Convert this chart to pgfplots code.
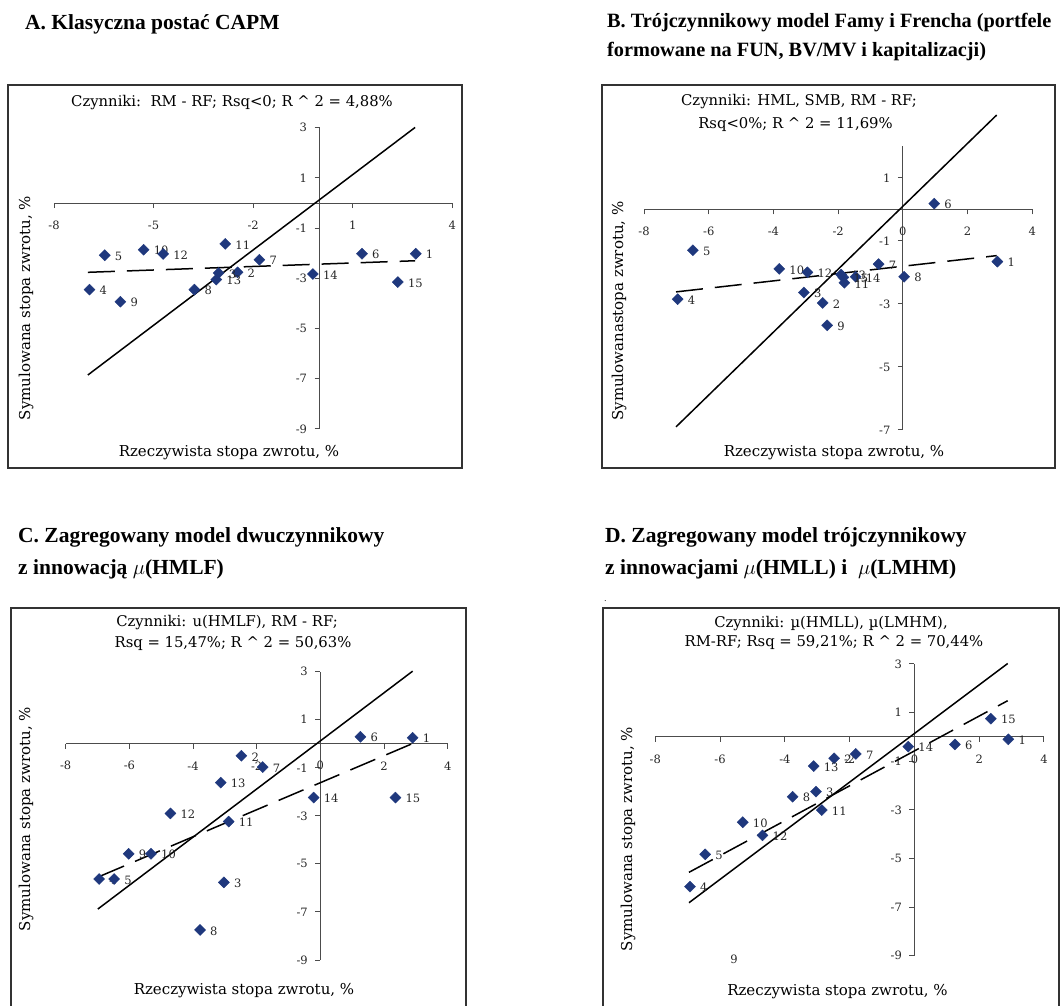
\documentclass[border=0pt]{standalone}
\usepackage{fontspec}
\setmainfont{DejaVu Serif}
\newfontfamily\titlefont{Liberation Serif}
\usepackage{pgfplots}
\pgfplotsset{compat=1.18}
\definecolor{navy}{RGB}{31,56,125}
\newcommand{\ttl}{\titlefont\bfseries\fontsize{21.5}{25}\selectfont}
\newcommand{\ttlb}{\titlefont\bfseries\fontsize{20.3}{24}\selectfont}
\newcommand{\ctl}{\fontsize{14.8}{17}\selectfont}
\newcommand{\alb}{\fontsize{15}{17}\selectfont}
\pgfplotsset{
  panel/.style={
    scale only axis, anchor=south west,
    axis lines=middle,
    axis line style={-, black!70, line width=1pt},
    clip=false,
    hide obscured x ticks=false, hide obscured y ticks=false,
    major tick style={black!70, line width=1pt},
    major tick length=5pt, tick align=outside,
    xmin=-8, xmax=4,
    ytick={-9,-7,-5,-3,-1,1,3},
    yticklabels={-9,-7,-5,-3,-1,1,3},
    xtick={-8,-6,-4,-2,0,2,4},
    xticklabels={-8,-6,-4,-2,0,2,4},
    xticklabel style={font=\fontsize{11.5}{13}\selectfont, anchor=center, yshift=-17pt, text=black!85},
    yticklabel style={font=\fontsize{11.5}{13}\selectfont, anchor=east, xshift=-4pt, text=black!85},
  },
  lbl/.style={every node near coord/.append style={anchor=west, xshift=9pt, yshift=-1pt, inner sep=1pt,
      font=\fontsize{11.5}{13}\selectfont, text=black!85}},
  pts/.style={only marks, mark=square*, mark size=3.9pt,
    mark options={rotate=45, fill=navy, draw=navy},
    nodes near coords, point meta=explicit symbolic, lbl},
  diag/.style={black, line width=1.5pt, no marks},
  trend/.style={black, line width=1.5pt, no marks, dash pattern=on 27pt off 12pt},
}
\begin{document}
\begin{tikzpicture}[x=1pt,y=1pt]
\path[use as bounding box] (0,0) rectangle (1061,1005);
% frames
\draw[black!80, line width=1.2pt] (8,537) rectangle (462,920);
\draw[black!80, line width=1.2pt] (602,537) rectangle (1055,920);
\draw[black!80, line width=1.2pt] (11,-5) rectangle (466,397);
\draw[black!80, line width=1.2pt] (603,-5) rectangle (1059,397);
% titles
\node[anchor=base west, inner sep=0] at (25,975) {\ttl A. Klasyczna postać CAPM};
\node[anchor=base west, inner sep=0] at (607,977.7) {\ttlb B. Trójczynnikowy model Famy i Frencha (portfele};
\node[anchor=base west, inner sep=0] at (607,948.3) {\ttlb formowane na FUN, BV/MV i kapitalizacji)};
\node[anchor=base west, inner sep=0] at (18,462) {\ttl C. Zagregowany model dwuczynnikowy};
\node[anchor=base west, inner sep=0] at (18,430) {\ttl z innowacją {\mdseries$\mu$}(HMLF)};
\node[anchor=base west, inner sep=0] at (605,462) {\ttl D. Zagregowany model trójczynnikowy};
\node[anchor=base west, inner sep=0] at (605,430) {\ttl z innowacjami {\mdseries$\mu$}(HMLL) i\ \ {\mdseries$\mu$}(LMHM)};
\node[anchor=base west, inner sep=0] at (604,403) {\fontsize{8}{9}\selectfont .};
% panel A
\begin{axis}[panel, at={(54pt,576pt)}, x=33.19pt, y=25.11pt, ymin=-9, ymax=3,
  xtick={-8,-5,-2,1,4}, xticklabels={-8,-5,-2,1,4}]
\addplot[pts] table[meta=l] {
x y l
2.90 -2.02 1
-2.47 -2.76 2
-3.04 -2.79 3
-6.93 -3.45 4
-6.47 -2.08 5
1.28 -2.02 6
-1.81 -2.26 7
-3.77 -3.45 8
-6.00 -3.93 9
-5.30 -1.86 10
-2.84 -1.63 11
-4.71 -2.03 12
-3.11 -3.05 13
-0.20 -2.83 14
2.36 -3.15 15
};
\addplot[diag] coordinates {(-6.98,-6.85) (2.88,3.01)};
\addplot[trend] coordinates {(-6.98,-2.76) (2.88,-2.30)};
\end{axis}
\node at (232,902) {\ctl Czynniki:\ \ RM - RF; Rsq<0; R \textasciicircum\ 2 = 4,88\%};
\node[rotate=90] at (26,697) {\alb Symulowana stopa zwrotu, \%};
\node at (229,552) {\alb Rzeczywista stopa zwrotu, \%};
% panel B
\begin{axis}[panel, at={(644pt,575pt)}, x=32.36pt, y=31.53pt, ymin=-7, ymax=2,
  ytick={-7,-5,-3,-1,1}, yticklabels={-7,-5,-3,-1,1}]
\addplot[pts] table[meta=l] {
x y l
2.92 -1.66 1
-2.48 -2.97 2
-3.06 -2.64 3
-6.96 -2.85 4
-6.49 -1.30 5
0.97 0.18 6
-0.75 -1.74 7
0.04 -2.14 8
-2.34 -3.68 9
-3.82 -1.89 10
-1.81 -2.33 11
-2.95 -2.00 12
-1.91 -2.07 13
-1.46 -2.14 14
-1.84 -2.16 15
};
\addplot[diag] coordinates {(-7.01,-6.90) (2.90,2.99)};
\addplot[trend] coordinates {(-7.01,-2.62) (2.90,-1.47)};
\end{axis}
\node at (799,903) {\ctl Czynniki: HML, SMB, RM - RF;};
\node at (795.5,880) {\ctl Rsq<0\%; R \textasciicircum\ 2 = 11,69\%};
\node[rotate=90] at (619,694) {\alb Symulowanastopa zwrotu, \%};
\node at (834,552) {\alb Rzeczywista stopa zwrotu, \%};
% panel C
\begin{axis}[panel, at={(65.7pt,45pt)}, x=31.83pt, y=24.03pt, ymin=-9, ymax=3]
\addplot[pts] table[meta=l] {
x y l
2.90 0.25 1
-2.48 -0.50 2
-3.03 -5.77 3
-6.95 -5.63 4
-6.48 -5.63 5
1.26 0.29 6
-1.81 -0.97 7
-3.78 -7.75 8
-6.02 -4.58 9
-5.32 -4.58 10
-2.88 -3.24 11
-4.71 -2.90 12
-3.13 -1.62 13
-0.21 -2.24 14
2.36 -2.24 15
};
\addplot[diag] coordinates {(-6.99,-6.88) (2.90,3.02)};
\addplot[trend] coordinates {(-6.95,-5.53) (2.92,0.02)};
\end{axis}
\node at (227,382) {\ctl Czynniki: u(HMLF), RM - RF;};
\node at (233,361) {\ctl Rsq = 15,47\%; R \textasciicircum\ 2 = 50,63\%};
\node[rotate=90] at (26,186) {\alb Symulowana stopa zwrotu, \%};
\node at (244,14) {\alb Rzeczywista stopa zwrotu, \%};
% panel D
\begin{axis}[panel, at={(655.3pt,49.3pt)}, x=32.39pt, y=24.31pt, ymin=-9, ymax=3]
\addplot[pts] table[meta=l] {
x y l
2.90 -0.10 1
-2.48 -0.88 2
-3.04 -2.25 3
-6.93 -6.16 4
-6.46 -4.83 5
1.25 -0.31 6
-1.81 -0.70 7
-3.76 -2.46 8
-5.30 -3.51 10
-2.86 -3.01 11
-4.69 -4.05 12
-3.11 -1.20 13
-0.19 -0.40 14
2.36 0.75 15
};
\addplot[draw=none, no marks, nodes near coords, point meta=explicit symbolic, lbl] table[meta=l] {
x y l
-6.00 -9.11 9
};
\addplot[diag] coordinates {(-6.96,-6.82) (2.88,3.02)};
\addplot[trend] coordinates {(-6.96,-5.57) (2.88,1.49)};
\end{axis}
\node at (831,381) {\ctl Czynniki: µ(HMLL), µ(LMHM),};
\node at (834,362) {\ctl RM-RF; Rsq = 59,21\%; R \textasciicircum\ 2 = 70,44\%};
\node[rotate=90] at (628,166) {\alb Symulowana stopa zwrotu, \%};
\node at (837.5,13) {\alb Rzeczywista stopa zwrotu, \%};
\end{tikzpicture}
\end{document}
